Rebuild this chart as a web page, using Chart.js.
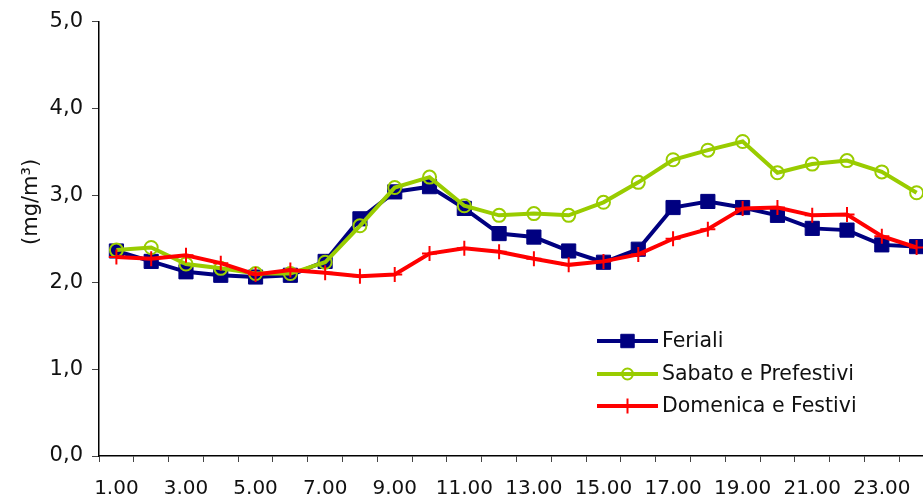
<!DOCTYPE html>
<html><head><meta charset="utf-8">
<script src="https://cdn.jsdelivr.net/npm/chart.js@4/dist/chart.umd.min.js"></script>
<style>
html,body{margin:0;padding:0;background:#fff;overflow:hidden;}
#wrap{width:923px;height:499px;overflow:hidden;position:relative;}
#box{width:945px;height:499px;position:absolute;left:0;top:0;}
</style></head>
<body>
<div id="wrap"><div id="box"><canvas id="c"></canvas></div></div>
<script>
const hours = ["1.00","2.00","3.00","4.00","5.00","6.00","7.00","8.00","9.00","10.00","11.00","12.00","13.00","14.00","15.00","16.00","17.00","18.00","19.00","20.00","21.00","22.00","23.00","24.00"];
const feriali = [2.36,2.24,2.12,2.08,2.06,2.08,2.24,2.73,3.04,3.10,2.85,2.56,2.52,2.36,2.23,2.38,2.86,2.93,2.86,2.77,2.62,2.60,2.43,2.41];
const sabato = [2.37,2.40,2.21,2.16,2.10,2.10,2.23,2.65,3.09,3.21,2.88,2.77,2.79,2.77,2.92,3.15,3.41,3.52,3.62,3.26,3.36,3.40,3.27,3.03];
const domenica = [2.29,2.27,2.31,2.22,2.09,2.14,2.11,2.07,2.09,2.33,2.39,2.35,2.27,2.20,2.24,2.32,2.50,2.61,2.85,2.86,2.77,2.78,2.53,2.40];
const seriesNames = ["Feriali","Sabato e Prefestivi","Domenica e Festivi"];
const yTitle = "(mg/m³)";

const FONT = "'DejaVu Sans',sans-serif";
const TXT = '#111';

const legendPlugin = {
  id: 'customLegend',
  afterDraw(chart) {
    const ctx = chart.ctx;
    const x0 = 597, x1 = 658, rows = [341, 374, 406];
    chart.data.datasets.forEach((ds, i) => {
      const y = rows[i];
      ctx.save();
      ctx.strokeStyle = ds.borderColor;
      ctx.lineWidth = 4;
      ctx.beginPath(); ctx.moveTo(x0, y); ctx.lineTo(x1, y); ctx.stroke();
      ctx.fillStyle = ds.pointBackgroundColor;
      ctx.strokeStyle = ds.pointBorderColor;
      ctx.lineWidth = ds.pointBorderWidth;
      Chart.helpers.drawPoint(ctx, {pointStyle: ds.pointStyle, radius: ds.legendRadius, rotation: 0, borderWidth: ds.pointBorderWidth}, (x0 + x1) / 2, y);
      ctx.fillStyle = TXT;
      ctx.font = "20.5px " + FONT;
      ctx.textBaseline = 'middle';
      ctx.textAlign = 'left';
      ctx.fillText(ds.label, x1 + 4, y + 1);
      ctx.restore();
    });
    // y axis title
    ctx.save();
    ctx.translate(32, chart.chartArea.top + (chart.chartArea.bottom - chart.chartArea.top) * 0.415);
    ctx.rotate(-Math.PI / 2);
    ctx.fillStyle = TXT;
    ctx.font = "21px " + FONT;
    ctx.textAlign = 'center';
    ctx.textBaseline = 'middle';
    ctx.fillText(yTitle, 0, 0);
    ctx.restore();
  }
};

new Chart(document.getElementById('c'), {
  type: 'line',
  data: {
    labels: hours,
    datasets: [
      {label: seriesNames[0], data: feriali, borderColor: '#000080', borderWidth: 4,
       pointStyle: 'rect', pointRadius: 10, pointBackgroundColor: '#000080', pointBorderColor: '#000080', pointBorderWidth: 1,
       legendRadius: 9.5, order: 2},
      {label: seriesNames[1], data: sabato, borderColor: '#99CC00', borderWidth: 4,
       pointStyle: 'circle', pointRadius: 6.5, pointBackgroundColor: 'rgba(0,0,0,0)', pointBorderColor: '#99CC00', pointBorderWidth: 2,
       legendRadius: 5.5, order: 1},
      {label: seriesNames[2], data: domenica, borderColor: '#FF0000', borderWidth: 4,
       pointStyle: 'cross', pointRadius: 7.5, pointBackgroundColor: '#FF0000', pointBorderColor: '#FF0000', pointBorderWidth: 2,
       legendRadius: 7.5, order: 0}
    ]
  },
  options: {
    responsive: true,
    maintainAspectRatio: false,
    animation: false,
    events: [],
    layout: {padding: {left: 0, right: 6, top: 19, bottom: 0}},
    plugins: {legend: {display: false}, tooltip: {enabled: false}},
    scales: {
      x: {
        offset: true,
        grid: {offset: true, drawOnChartArea: false, drawTicks: true, tickLength: 6, color: '#444', lineWidth: 1},
        border: {display: true, color: '#000', width: 1.5},
        ticks: {autoSkip: false, maxRotation: 0, minRotation: 0, padding: 15, color: TXT,
                font: {family: FONT, size: 20},
                callback: function(v, i) { return i % 2 === 0 ? this.getLabelForValue(v) : ''; }},
        afterFit: s => { s.height = 43; }
      },
      y: {
        min: 0, max: 5,
        grid: {drawOnChartArea: false, drawTicks: true, tickLength: 7, color: '#444', lineWidth: 1},
        border: {display: true, color: '#000', width: 1.5},
        ticks: {stepSize: 1, padding: 9, color: TXT, font: {family: FONT, size: 21},
                callback: v => v.toFixed(1).replace('.', ',')},
        afterFit: s => { s.width = 99; }
      }
    }
  },
  plugins: [legendPlugin]
});
</script>
</body></html>
